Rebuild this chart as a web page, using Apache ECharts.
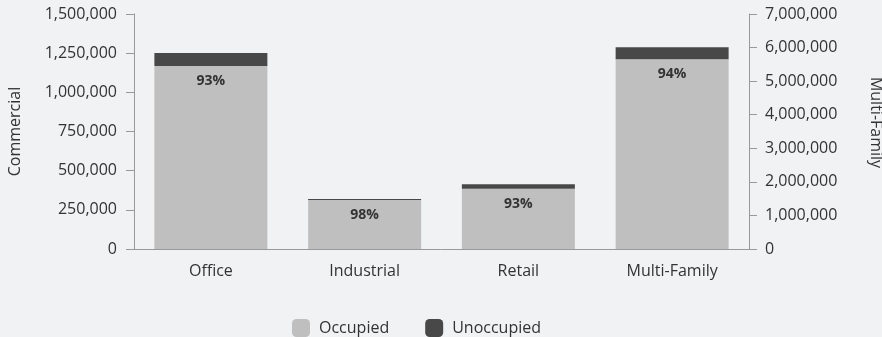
<!DOCTYPE html>
<html>
<head>
<meta charset="utf-8">
<script src="https://cdn.jsdelivr.net/npm/echarts@6/dist/echarts.min.js"></script>
<style>
  html, body { margin: 0; padding: 0; background: #f1f2f4; }
  #chart { width: 882px; height: 337px; }
</style>
</head>
<body>
<div id="chart"></div>
<script>
// categories and values (square feet)
var categories = ["Office", "Industrial", "Retail", "Multi-Family"];
var occupiedCommercial = [1168000, 313000, 385000, "-"];
var unoccupiedCommercial = [83000, 6000, 28000, "-"];
var occupiedMultiFamily = ["-", "-", "-", 5650000];
var unoccupiedMultiFamily = ["-", "-", "-", 360000];
var pctLabels = ["93%", "98%", "93%", "94%"];

var font = "Open Sans";
var textColor = "#333";
var axisColor = "#999";

var pctLabel = {
  show: true,
  position: "insideTop",
  distance: 8,
  fontFamily: font,
  fontWeight: "bold",
  fontSize: 14,
  color: "#333",
  formatter: function (p) { return pctLabels[p.dataIndex]; }
};

var chart = echarts.init(document.getElementById("chart"));
chart.setOption({
  backgroundColor: "#f1f2f4",
  animation: false,
  textStyle: { fontFamily: font },
  grid: { left: 134, right: 133, top: 14, bottom: 88, outerBoundsMode: "none", containLabel: false },
  legend: {
    top: 314,
    left: 287,
    icon: "roundRect",
    itemWidth: 18,
    itemHeight: 18,
    itemGap: 36,
    textStyle: { fontFamily: font, fontSize: 16, color: textColor, padding: [0, 0, 0, 4] },
    data: ["Occupied", "Unoccupied"]
  },
  xAxis: {
    type: "category",
    data: categories,
    axisLine: { lineStyle: { color: axisColor } },
    axisTick: { length: 5, lineStyle: { color: axisColor } },
    axisLabel: { margin: 14, fontSize: 16, color: textColor, fontFamily: font }
  },
  yAxis: [
    {
      type: "value",
      min: 0, max: 1500000, interval: 250000,
      name: "Commercial",
      nameLocation: "middle",
      nameRotate: 90,
      nameGap: 111,
      nameTextStyle: { fontSize: 16, color: textColor, fontFamily: font },
      axisLine: { show: true, lineStyle: { color: axisColor } },
      axisTick: { show: true, length: 8, lineStyle: { color: axisColor } },
      splitLine: { show: false },
      axisLabel: {
        margin: 17, fontSize: 16, color: textColor, fontFamily: font,
        formatter: function (v) { return v.toLocaleString("en-US"); }
      }
    },
    {
      type: "value",
      min: 0, max: 7000000, interval: 1000000,
      name: "Multi-Family",
      nameLocation: "middle",
      nameRotate: -90,
      nameGap: 119,
      nameTextStyle: { fontSize: 16, color: textColor, fontFamily: font, padding: [0, 18, 0, 0] },
      axisLine: { show: true, lineStyle: { color: axisColor } },
      axisTick: { show: true, length: 8, lineStyle: { color: axisColor } },
      splitLine: { show: false },
      axisLabel: {
        margin: 16, fontSize: 16, color: textColor, fontFamily: font,
        formatter: function (v) { return v.toLocaleString("en-US"); }
      }
    }
  ],
  series: [
    {
      name: "Occupied", type: "bar", stack: "comm", yAxisIndex: 0,
      barWidth: 113, barGap: "-100%",
      itemStyle: { color: "#bfbfbf" },
      label: pctLabel,
      data: occupiedCommercial
    },
    {
      name: "Unoccupied", type: "bar", stack: "comm", yAxisIndex: 0,
      barWidth: 113, barGap: "-100%",
      itemStyle: { color: "#484848" },
      data: unoccupiedCommercial
    },
    {
      name: "Occupied", type: "bar", stack: "mf", yAxisIndex: 1,
      barWidth: 113, barGap: "-100%",
      itemStyle: { color: "#bfbfbf" },
      label: pctLabel,
      data: occupiedMultiFamily
    },
    {
      name: "Unoccupied", type: "bar", stack: "mf", yAxisIndex: 1,
      barWidth: 113, barGap: "-100%",
      itemStyle: { color: "#484848" },
      data: unoccupiedMultiFamily
    }
  ]
});
</script>
</body>
</html>
